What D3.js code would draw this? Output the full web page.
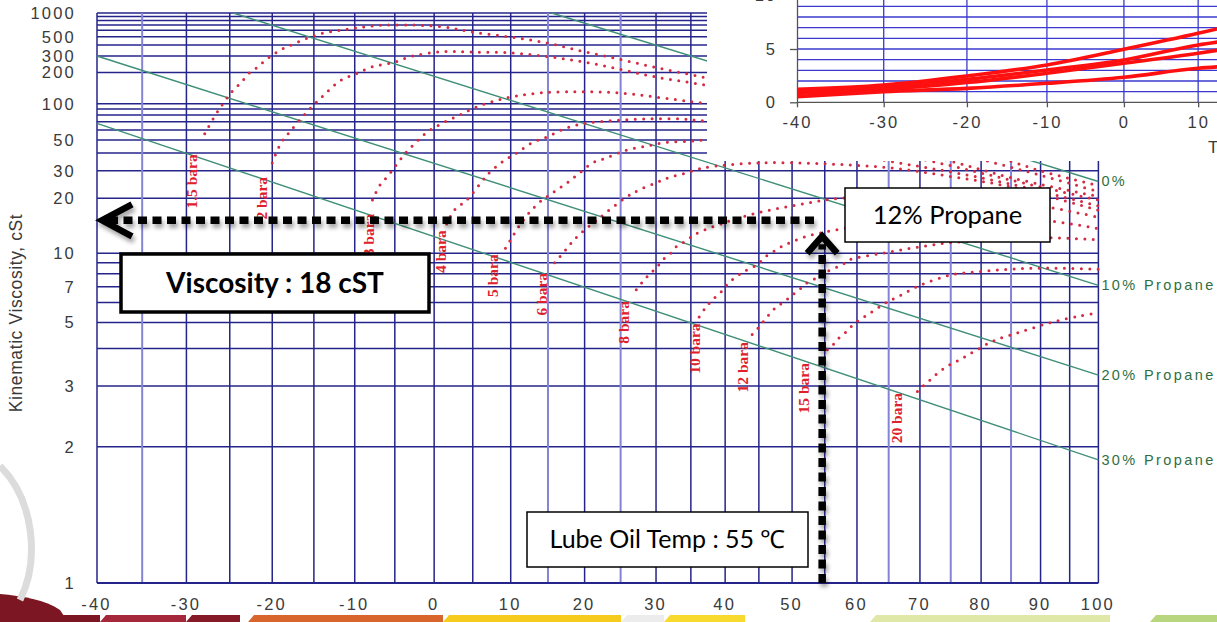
<!DOCTYPE html>
<html lang="en">
<head>
<meta charset="UTF-8">
<title>Lube oil viscosity with propane dilution</title>
<script src="https://d3js.org/d3.v7.min.js"></script>
<style>
  body { margin: 0; background: #fff; }
  svg { display: block; }
</style>
</head>
<body>
<div id="chart"></div>
<script>
// ---- main chart data (temperature in degC, kinematic viscosity in cSt) ----
const tempTicks = [-40, -30, -20, -10, 0, 10, 20, 30, 40, 50, 60, 70, 80, 90, 100];
const tempGrid = [-40, -35, -30, -25, -20, -15, -10, -5, 0, 5, 10, 15, 20, 25, 30, 35, 40, 45, 50, 55, 60, 65, 70, 75, 80, 85, 90, 95, 100];
const tempGridLight = [-35, 15, 25, 65, 75, 85];
const viscTicks = [1, 2, 3, 5, 7, 10, 20, 30, 50, 100, 200, 300, 500, 1000];
const viscGrid = [2, 3, 4, 5, 6, 7, 8, 9, 10, 20, 30, 40, 50, 60, 70, 80, 90, 100, 200, 300, 400, 500, 600, 700, 800, 900, 1000];

const propaneNames = ["0%", "10% Propane", "20% Propane", "30% Propane"];
const propaneLines = [
  [[15.5, 1000], [100, 25.5]],
  [[-24.6, 1000], [100, 7.1]],
  [[-40, 300], [100, 3.25]],
  [[-40, 68], [100, 1.85]]
];

const pressureNames = ["1.5 bara", "2 bara", "3 bara", "4 bara", "5 bara", "6 bara", "8 bara", "10 bara", "12 bara", "15 bara", "20 bara"];
const pressureLabelAt = [[-29.4, 25.5], [-21.3, 20], [-8.3, 12.4], [0.8, 10.2], [7.6, 7.85], [14.2, 6.5], [25.4, 5.0], [35.5, 4.0], [42.5, 3.45], [51.8, 2.95], [66.3, 2.4]];
const pressureCurves = [
  [[-27.9, 56], [-26.8, 77], [-25.8, 100], [-24.8, 128], [-23.7, 158], [-22.7, 198], [-21.8, 225], [-20.8, 270], [-19.8, 315], [-18.8, 360], [-17.7, 400], [-15.8, 480], [-13.8, 555], [-11.8, 600], [-9.8, 640], [-7.8, 680], [-5, 700], [1, 665], [5, 570], [10, 495], [15, 420], [20, 335], [25, 275], [30, 225], [35, 190], [40, 160], [50, 110], [60, 76], [70, 55], [80, 41], [90, 30], [100, 24]],
  [[-20, 34], [-19, 47], [-18, 57], [-15.9, 84], [-13.8, 120], [-11.8, 165], [-9.8, 195], [-7.8, 230], [-5.2, 255], [-2.7, 300], [1.1, 335], [5, 332], [10, 325], [15, 295], [20, 258], [25, 215], [30, 180], [35, 158], [40, 138], [50, 95], [60, 65], [70, 47], [80, 36], [90, 28], [100, 22]],
  [[-7.8, 19.5], [-6.9, 24], [-5.8, 28], [-4.8, 33], [-3.8, 39], [-2.8, 45], [-1, 57], [1, 68], [3.3, 80], [5.5, 94], [8.2, 108], [10.8, 118], [13.9, 126], [17.6, 129], [22, 129], [26.5, 123], [31.4, 112], [37, 101], [45, 84], [55, 62], [65, 46], [75, 35], [85, 27], [100, 20.5]],
  [[1.6, 14.2], [2.6, 17], [4.2, 19.5], [6.2, 25.5], [7, 28.5], [9, 35], [10.8, 40], [12.9, 48], [14.9, 53], [17.4, 62], [20.2, 68], [24.4, 72], [29, 74], [33.7, 74], [37, 71], [45, 65], [55, 52], [65, 41], [75, 32.5], [85, 26], [100, 19.5]],
  [[9.3, 10.6], [10.2, 12.1], [11.2, 14], [12.5, 16.5], [13.9, 19], [14.9, 20.5], [16.2, 22.5], [17.6, 25], [19.3, 29], [21.1, 34], [23.1, 37], [25.8, 42], [28.6, 45], [31.4, 48], [34.7, 49], [37, 50], [45, 49], [55, 43], [65, 35], [75, 29.5], [85, 24.5], [100, 18]],
  [[15.9, 9.0], [17.2, 10.2], [18.2, 11.3], [19.3, 12.5], [22, 15.3], [25.8, 20.3], [27.6, 22.5], [30, 25], [31.8, 27], [34.3, 29], [37, 31.5], [45, 34], [55, 33.5], [65, 31.5], [75, 27.5], [85, 23.5], [100, 17]],
  [[27.2, 6.8], [28, 7.3], [29.1, 8.0], [30, 8.5], [31.1, 9.4], [32.1, 10.0], [32.9, 10.8], [34, 11.4], [35.2, 12.2], [36.2, 12.8], [40, 14.5], [45, 16.5], [50, 18], [55, 19.5], [60, 20.3], [70, 20.6], [80, 19.5], [90, 18], [100, 15.5]],
  [[36.2, 5.25], [37.1, 5.7], [38.1, 6.15], [39.3, 6.6], [40.1, 7.05], [41, 7.5], [42, 7.9], [43.1, 8.3], [44.7, 8.8], [46.1, 9.7], [47.6, 10.4], [48.8, 11], [50, 11.4], [51.5, 12], [53, 12.4], [60, 13.8], [70, 15], [80, 15.3], [90, 15], [100, 13.4]],
  [[44, 4.5], [45, 4.8], [46.1, 5.2], [47, 5.55], [48, 5.85], [49, 6.1], [50, 6.45], [51.1, 6.8], [52.3, 7.3], [53.7, 7.65], [54.9, 8.05], [56.1, 8.4], [57.7, 8.8], [58.8, 9.3], [63.9, 10.0], [69.3, 10.7], [74.7, 11.3], [80.2, 11.6], [86, 11.9], [91.6, 12], [100, 11.7]],
  [[55.4, 3.96], [56, 4.05], [56.9, 4.3], [58.3, 4.6], [59.8, 5.0], [61.9, 5.4], [64.6, 6.0], [66.7, 6.4], [70, 7.1], [75, 7.9], [80, 8.2], [85, 8.4], [90, 8.5], [100, 8.4]],
  [[69.6, 2.88], [70.4, 2.98], [71.6, 3.13], [73.3, 3.35], [74.9, 3.52], [76.6, 3.67], [78, 3.82], [79.7, 4.0], [81.4, 4.2], [83.1, 4.35], [86.6, 4.6], [91.8, 5.0], [96.9, 5.3], [100, 5.45]]
];

// reading shown by the annotation arrows
const lubeTemp = 54.6;
const readVisc = 14.9;

// ---- inset chart data ----
const insetTempTicks = [-40, -30, -20, -10, 0, 10];
const insetValTicks = [0, 5, 10];
const insetValGrid = [1, 2, 3, 4, 5, 6, 7, 8, 9, 10];
const insetTemps = [-40, -30, -20, -10, 0, 10, 13];
const insetSeries = [
  [1.22, 1.62, 2.47, 3.5, 4.97, 6.47, 6.94],
  [0.99, 1.41, 2.15, 3.03, 3.97, 5.38, 5.69],
  [0.84, 1.22, 1.85, 2.72, 3.66, 4.6, 4.91],
  [0.53, 0.99, 1.31, 1.78, 2.35, 3.19, 3.34]
];

const K = 273.15;
const W = 1217, H = 622;
const navy = "#24248a";

const svg = d3.select("#chart").append("svg")
  .attr("width", W)
  .attr("height", H)
  .style("font-family", "'Liberation Sans', Arial, sans-serif");

const defs = svg.append("defs");
defs.append("filter").attr("id", "shadow")
  .attr("x", "-20%").attr("y", "-20%").attr("width", "140%").attr("height", "140%")
  .append("feDropShadow")
  .attr("dx", 2).attr("dy", 4).attr("stdDeviation", 2.2)
  .attr("flood-color", "#000").attr("flood-opacity", 0.35);
defs.append("clipPath").attr("id", "insetClip")
  .append("rect").attr("x", 707).attr("y", 0).attr("width", 510).attr("height", 161);

// slide decoration along the bottom (drawn first, behind the labels)
const band = [
  { x0: 0, x1: 100, c: "#7c1622" },
  { x0: 100, x1: 186, c: "#a5283a" },
  { x0: 186, x1: 240, c: "#861a26" },
  { x0: 248, x1: 443, c: "#d8662c" },
  { x0: 443, x1: 621, c: "#f6cb1e" },
  { x0: 621, x1: 664, c: "#ececec" },
  { x0: 664, x1: 745, c: "#f8da2e" },
  { x0: 870, x1: 1110, c: "#dfe8a6" },
  { x0: 1150, x1: 1217, c: "#b8d67e" }
];
svg.append("g").selectAll("path")
  .data(band)
  .enter().append("path")
    .attr("d", d => "M" + (d.x0 + 6) + ",615L" + d.x1 + ",615L" + d.x1 + ",622L" + d.x0 + ",622Z")
    .attr("fill", d => d.c);
svg.append("path")
  .attr("d", "M0,594 C22,596 46,600 60,610 L68,622 L0,622 Z")
  .attr("fill", "#7c1622");
svg.append("path")
  .attr("d", "M0,466 C34,500 40,560 20,600")
  .attr("fill", "none").attr("stroke", "#dcdcdc").attr("stroke-width", 7);

// ASTM style axes: log of absolute temperature, log-log of viscosity
const x = d3.scaleLog().domain([-40 + K, 100 + K]).range([97, 1098.4]);
const Z = v => Math.log10(Math.log10(v + 0.73));
const yz = d3.scaleLinear().domain([Z(1), Z(1000)]).range([583, 13]);
const X = t => x(t + K);
const Y = v => yz(Z(v));

// grid
const grid = svg.append("g");
grid.selectAll("line.h")
  .data(viscGrid)
  .enter().append("line")
    .attr("class", "h")
    .attr("x1", X(-40)).attr("x2", X(100))
    .attr("y1", d => Y(d)).attr("y2", d => Y(d))
    .attr("stroke", navy).attr("stroke-width", 1.5);
grid.selectAll("line.v")
  .data(tempGrid)
  .enter().append("line")
    .attr("class", "v")
    .attr("x1", d => X(d)).attr("x2", d => X(d))
    .attr("y1", Y(1)).attr("y2", Y(1000))
    .attr("stroke", d => tempGridLight.includes(d) ? "#8484d6" : navy)
    .attr("stroke-width", d => tempGridLight.includes(d) ? 2 : 1.5);
grid.append("line")
  .attr("x1", X(-40)).attr("x2", X(100))
  .attr("y1", Y(1)).attr("y2", Y(1))
  .attr("stroke", navy).attr("stroke-width", 2.2);

// axes (labels only)
const yAxis = svg.append("g")
  .attr("transform", "translate(" + X(-40) + ",0)")
  .call(d3.axisLeft(yz)
    .tickValues(viscTicks.map(Z))
    .tickFormat((d, i) => viscTicks[i])
    .tickSize(0).tickPadding(21));
const xAxis = svg.append("g")
  .attr("transform", "translate(0," + Y(1) + ")")
  .call(d3.axisBottom(x)
    .tickValues(tempTicks.map(t => t + K))
    .tickFormat((d, i) => String(tempTicks[i]))
    .tickSize(0).tickPadding(15));
[yAxis, xAxis].forEach(a => {
  a.select(".domain").remove();
  a.selectAll("text")
    .style("font-family", "'Liberation Sans', Arial, sans-serif")
    .style("font-size", "16.5px")
    .style("letter-spacing", "2.2px")
    .attr("fill", "#3a3a3a");
});
xAxis.selectAll("text").attr("dx", "-1px");

svg.append("text")
  .attr("transform", "translate(22,313) rotate(-90)")
  .attr("text-anchor", "middle")
  .style("font-size", "17.5px")
  .style("letter-spacing", "0.6px")
  .attr("fill", "#3a3a3a")
  .text("Kinematic Viscosity, cSt");

// propane dilution lines
const straight = d3.line().x(d => X(d[0])).y(d => Y(d[1]));
svg.append("g").selectAll("path")
  .data(propaneLines)
  .enter().append("path")
    .attr("d", straight)
    .attr("fill", "none")
    .attr("stroke", "#3f8f78")
    .attr("stroke-width", 1.4);
svg.append("g").selectAll("text")
  .data(propaneLines)
  .enter().append("text")
    .attr("x", d => X(d[1][0]) + 3)
    .attr("y", d => Y(d[1][1]) + 5)
    .style("font-size", "14.5px")
    .style("letter-spacing", "2.4px")
    .attr("fill", "#2f6f3f")
    .text((d, i) => propaneNames[i]);

// isobars (dotted red)
const curve = d3.line().curve(d3.curveCatmullRom).x(d => X(d[0])).y(d => Y(d[1]));
svg.append("g").selectAll("path")
  .data(pressureCurves)
  .enter().append("path")
    .attr("d", curve)
    .attr("fill", "none")
    .attr("stroke", "#d42a42")
    .attr("stroke-width", 3)
    .attr("stroke-linecap", "round")
    .attr("stroke-dasharray", "0 8.4");
svg.append("g").selectAll("text")
  .data(pressureLabelAt)
  .enter().append("text")
    .attr("transform", d => "translate(" + X(d[0]) + "," + Y(d[1]) + ") rotate(-90)")
    .attr("text-anchor", "middle")
    .attr("dy", "0.35em")
    .style("font-family", "'Liberation Serif', 'Times New Roman', serif")
    .style("font-weight", "bold")
    .style("font-size", "15.5px")
    .attr("fill", "#e0202a")
    .text((d, i) => pressureNames[i]);

// inset chart in the upper right corner
const ix = d3.scaleLog().domain([-40 + K, 100 + K]).range([797, 1768]);
const iy = d3.scaleLinear().domain([0, 10]).range([102.3, -4.3]);
const inset = svg.append("g").attr("clip-path", "url(#insetClip)");
inset.append("rect")
  .attr("x", 707).attr("y", 0).attr("width", 510).attr("height", 161)
  .attr("fill", "#fff");
inset.selectAll("line.ih")
  .data(insetValGrid)
  .enter().append("line")
    .attr("class", "ih")
    .attr("x1", ix(-40 + K)).attr("x2", W)
    .attr("y1", d => iy(d)).attr("y2", d => iy(d))
    .attr("stroke", "#3a3ad0").attr("stroke-width", 1.3);
inset.selectAll("line.iv")
  .data(insetTempTicks.slice(1))
  .enter().append("line")
    .attr("class", "iv")
    .attr("x1", d => ix(d + K)).attr("x2", d => ix(d + K))
    .attr("y1", iy(0)).attr("y2", 0)
    .attr("stroke", "#3a3ad0").attr("stroke-width", 1.3);
const ixAxis = inset.append("g")
  .attr("transform", "translate(0," + iy(0) + ")")
  .call(d3.axisBottom(ix)
    .tickValues(insetTempTicks.map(t => t + K))
    .tickFormat((d, i) => String(insetTempTicks[i]))
    .tickSize(5).tickSizeOuter(0).tickPadding(9));
const iyAxis = inset.append("g")
  .attr("transform", "translate(" + ix(-40 + K) + ",0)")
  .call(d3.axisLeft(iy)
    .tickValues(insetValTicks)
    .tickSize(7).tickSizeOuter(0).tickPadding(13));
[ixAxis, iyAxis].forEach(a => {
  a.selectAll("path, line").attr("stroke", "#555").attr("stroke-width", 1.3);
  a.selectAll("text")
    .style("font-family", "'Liberation Sans', Arial, sans-serif")
    .style("font-size", "16.5px")
    .style("letter-spacing", "2px")
    .attr("fill", "#3a3a3a");
});
ixAxis.select(".domain").attr("d", "M" + ix(-40 + K) + ",0H" + W);
inset.append("text")
  .attr("x", 1208).attr("y", 153)
  .style("font-size", "17px")
  .attr("fill", "#3a3a3a")
  .text("T");
const insetLine = d3.line().curve(d3.curveMonotoneX)
  .x((d, i) => ix(insetTemps[i] + K)).y(d => iy(d));
inset.selectAll("path.series")
  .data(insetSeries)
  .enter().append("path")
    .attr("class", "series")
    .attr("d", insetLine)
    .attr("fill", "none")
    .attr("stroke", "#ff1010")
    .attr("stroke-width", 3.6);

// reading annotation: dotted arrows and boxes
const ann = svg.append("g").attr("filter", "url(#shadow)");
ann.append("line")
  .attr("x1", X(-40) + 12).attr("x2", X(lubeTemp) - 6)
  .attr("y1", Y(readVisc)).attr("y2", Y(readVisc))
  .attr("stroke", "#000").attr("stroke-width", 7.5)
  .attr("stroke-dasharray", "9 5.5");
ann.append("polyline")
  .attr("points", [[X(-40) + 35, Y(readVisc) - 16], [X(-40) + 5, Y(readVisc)], [X(-40) + 35, Y(readVisc) + 16]].join(" "))
  .attr("fill", "none").attr("stroke", "#000").attr("stroke-width", 6.5);
ann.append("line")
  .attr("x1", X(lubeTemp)).attr("x2", X(lubeTemp))
  .attr("y1", Y(1)).attr("y2", Y(readVisc) + 24)
  .attr("stroke", "#000").attr("stroke-width", 7.5)
  .attr("stroke-dasharray", "9 5.5");
ann.append("polyline")
  .attr("points", [[X(lubeTemp) - 15, Y(readVisc) + 33], [X(lubeTemp), Y(readVisc) + 16], [X(lubeTemp) + 15, Y(readVisc) + 33]].join(" "))
  .attr("fill", "none").attr("stroke", "#000").attr("stroke-width", 6.5);

const boxes = [
  { x: 121, y: 254, w: 308, h: 58, sw: 3.5, text: "Viscosity : 18 cST", size: 28, weight: "bold" },
  { x: 845, y: 188, w: 205, h: 54, sw: 1.5, text: "12% Propane", size: 25.5, weight: "normal" },
  { x: 527, y: 512, w: 281, h: 55, sw: 1.5, text: "Lube Oil Temp : 55 \u2103", size: 25, weight: "normal" }
];
const box = svg.append("g").selectAll("g")
  .data(boxes)
  .enter().append("g");
box.append("rect")
  .attr("x", d => d.x).attr("y", d => d.y)
  .attr("width", d => d.w).attr("height", d => d.h)
  .attr("fill", "#fff").attr("stroke", "#000")
  .attr("stroke-width", d => d.sw);
box.append("text")
  .attr("x", d => d.x + d.w / 2).attr("y", d => d.y + d.h / 2)
  .attr("dy", "0.35em")
  .attr("text-anchor", "middle")
  .style("font-family", "Lato, 'Open Sans', sans-serif")
  .style("font-size", d => d.size + "px")
  .style("font-weight", d => d.weight)
  .attr("fill", "#000")
  .text(d => d.text);
</script>
</body>
</html>
